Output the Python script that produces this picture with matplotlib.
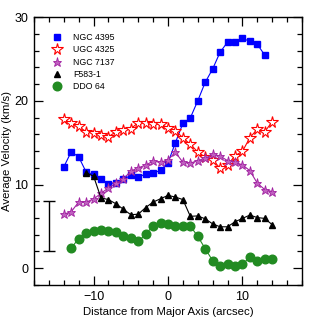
import matplotlib
matplotlib.use("Agg")
import matplotlib.pyplot as plt
from matplotlib.ticker import MultipleLocator

plt.rcParams['font.family'] = ['Liberation Sans', 'DejaVu Sans']

x_ngc4395 = list(range(-14, 14))
v_ngc4395 = [12.1, 13.9, 13.3, 11.5, 11.2, 10.6, 10.1, 10.2, 10.6, 11.1, 10.95, 11.2, 11.35, 11.7,
             12.6, 15.0, 17.3, 17.95, 20.0, 22.2, 23.8, 25.8, 27.0, 27.0, 27.45, 27.1, 26.75, 25.45]

x_ugc4325 = list(range(-14, 15))
v_ugc4325 = [17.8, 17.3, 16.95, 16.3, 16.15, 15.95, 15.7, 16.3, 16.5, 16.65, 17.4, 17.4, 17.25, 17.2,
             16.8, 16.4, 15.6, 14.8, 13.9, 13.25, 12.95, 11.95, 12.3, 13.45, 13.95, 15.6, 16.6, 16.3, 17.5]

x_ngc7137 = list(range(-14, 15))
v_ngc7137 = [6.45, 6.75, 7.9, 7.9, 8.25, 8.95, 9.6, 10.15, 10.65, 11.6, 12.0, 12.3, 12.8, 12.65,
             12.95, 13.85, 12.65, 12.55, 12.85, 13.15, 13.6, 13.4, 12.85, 12.65, 12.35, 11.65, 10.15, 9.4, 9.15]

x_f583 = list(range(-11, 15))
v_f583 = [11.4, 11.0, 8.4, 8.2, 7.7, 7.05, 6.4, 6.45, 7.25, 7.9, 8.3, 8.7, 8.5, 8.2,
          6.2, 6.25, 5.9, 5.3, 4.95, 4.95, 5.55, 5.95, 6.35, 6.05, 5.95, 5.2]

x_ddo64 = list(range(-13, 15))
v_ddo64 = [2.4, 3.55, 4.15, 4.45, 4.6, 4.5, 4.3, 3.8, 3.65, 3.2, 4.05, 5.1, 5.45, 5.25,
           5.1, 5.0, 5.05, 3.8, 2.35, 0.9, 0.25, 0.45, 0.25, 0.45, 1.35, 0.85, 1.05, 1.15]

err_x = -16
err_center = 5.0
err_half = 3.0

fig = plt.figure(figsize=(3.19, 3.19), dpi=100)
ax = fig.add_axes([0.1066, 0.1066, 0.84, 0.84])

lw = 0.8
ax.plot(x_ngc4395, v_ngc4395, color='#0000ff', lw=lw, marker='s', ms=4.2,
        mec='#0000ff', mfc='#0000ff', label='NGC 4395')
ax.plot(x_ugc4325, v_ugc4325, color='#ff0000', lw=lw, marker='*', ms=8.5,
        mec='#ff0000', mfc='white', mew=0.8, label='UGC 4325')
ax.plot(x_ngc7137, v_ngc7137, color='#a020a0', lw=lw, marker='*', ms=6.5,
        mec='#a020a0', mfc='#c060c0', mew=0.6, label='NGC 7137')
ax.plot(x_f583, v_f583, color='black', lw=lw, marker='^', ms=4.3,
        mec='black', mfc='black', label='F583-1')
ax.plot(x_ddo64, v_ddo64, color='#228b22', lw=lw, marker='o', ms=6.2,
        mec='#228b22', mfc='#228b22', label='DDO 64')

ax.errorbar([err_x], [err_center], yerr=[err_half], color='black', lw=1.0,
            capsize=4, capthick=1.0, fmt='none')

ax.set_xlim(-18, 18)
ax.set_ylim(-2, 30)
ax.xaxis.set_major_locator(MultipleLocator(10))
ax.xaxis.set_minor_locator(MultipleLocator(2))
ax.yaxis.set_major_locator(MultipleLocator(10))
ax.yaxis.set_minor_locator(MultipleLocator(2))
ax.tick_params(which='both', direction='in', top=True, right=True, labelsize=9, width=0.9, pad=4)
ax.tick_params(which='major', length=6.5)
ax.tick_params(which='minor', length=3.5)
for s in ax.spines.values():
    s.set_linewidth(1.0)

ax.set_xlabel('Distance from Major Axis (arcsec)', fontsize=8.2, labelpad=3)
ax.set_ylabel('Average Velocity (km/s)', fontsize=8.2, labelpad=1.5)

leg = ax.legend(loc='upper left', bbox_to_anchor=(0.07, 0.94), frameon=False, fontsize=6.3,
                handlelength=1.0, handletextpad=1.3, labelspacing=0.38, borderaxespad=0.0,
                borderpad=0.0)
for h in leg.legend_handles:
    h.set_linestyle('none')

fig.savefig('out.png', dpi=100)
